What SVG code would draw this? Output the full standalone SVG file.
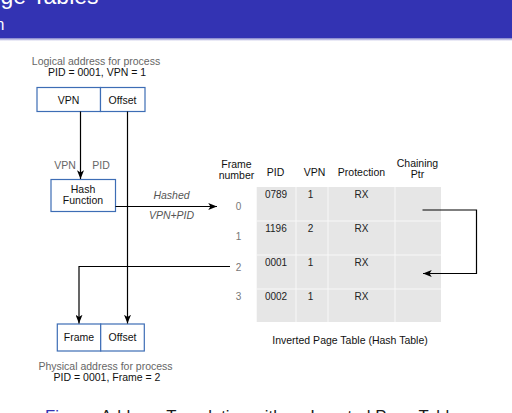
<svg xmlns="http://www.w3.org/2000/svg" width="512" height="413" viewBox="0 0 512 413">
  <style>
    text { font-family: "Liberation Sans", Arial, sans-serif; }
    .box { fill: #ffffff; stroke: #3d6db5; stroke-width: 1.2; }
    .lbl { font-size: 10.5px; fill: #111111; text-anchor: middle; }
    .note { font-size: 10.5px; fill: #666666; text-anchor: middle; }
    .hdr { font-size: 10.5px; fill: #111111; text-anchor: middle; }
    .cell { font-size: 10px; fill: #222222; text-anchor: middle; }
    .row { font-size: 10px; fill: #777777; text-anchor: middle; }
    .it { font-size: 10.5px; fill: #555555; font-style: italic; text-anchor: middle; }
    .conn { fill: none; stroke: #000000; stroke-width: 1.2; }
    .grid { stroke: #f8f8f8; stroke-width: 1; }
  </style>
  <defs>
    <marker id="arrow" viewBox="0 0 10 8" refX="10" refY="4" markerWidth="9" markerHeight="7" orient="auto" markerUnits="userSpaceOnUse">
      <path d="M0,0 L10,4 L0,8 L2.5,4 Z" fill="#000000"/>
    </marker>
    <linearGradient id="shade" x1="0" y1="0" x2="0" y2="1">
      <stop offset="0" stop-color="#7c7cc8"/>
      <stop offset="1" stop-color="#ffffff"/>
    </linearGradient>
  </defs>

  <!-- slide header -->
  <rect x="0" y="0" width="512" height="38" fill="#3333b3"/>
  <rect x="0" y="38" width="512" height="3" fill="url(#shade)"/>
  <text x="0.5" y="4.3" font-size="23" fill="#ffffff">ge Tables</text>
  <text x="-4.5" y="30" font-size="16" fill="#ffffff">n</text>

  <!-- logical address -->
  <g id="logical-address">
    <text class="note" x="96" y="65">Logical address for process</text>
    <text class="lbl" x="97" y="75.5">PID = 0001, VPN = 1</text>
    <rect class="box" x="37" y="87.5" width="63.5" height="24"/>
    <text class="lbl" x="68.5" y="103.5">VPN</text>
    <rect class="box" x="100.5" y="87.5" width="44.5" height="24"/>
    <text class="lbl" x="122.5" y="103.5">Offset</text>
  </g>

  <!-- hash function -->
  <g id="hash-function">
    <rect class="box" x="51" y="179.5" width="64.5" height="32"/>
    <text class="lbl" x="83" y="193">Hash</text>
    <text class="lbl" x="83" y="204">Function</text>
  </g>

  <!-- inverted page table -->
  <g id="page-table">
    <text class="hdr" x="236.5" y="168">Frame</text>
    <text class="hdr" x="236.5" y="179">number</text>
    <text class="hdr" x="275.5" y="176">PID</text>
    <text class="hdr" x="314.5" y="176">VPN</text>
    <text class="hdr" x="361.5" y="176">Protection</text>
    <text class="hdr" x="417.5" y="167">Chaining</text>
    <text class="hdr" x="417.5" y="178">Ptr</text>

    <rect x="256.7" y="187" width="184.3" height="135" fill="#e6e6e6"/>
    <path class="grid" d="M296,187 V322 M328,187 V322 M395,187 V322 M256.7,221 H441 M256.7,255 H441 M256.7,289 H441"/>

    <text class="row" x="238.5" y="210">0</text>
    <text class="row" x="238.5" y="240">1</text>
    <text class="row" x="238.5" y="270.5">2</text>
    <text class="row" x="238.5" y="300">3</text>

    <text class="cell" x="276" y="197.5">0789</text>
    <text class="cell" x="310.5" y="197.5">1</text>
    <text class="cell" x="361.5" y="197.5">RX</text>
    <text class="cell" x="276" y="231.5">1196</text>
    <text class="cell" x="310.5" y="231.5">2</text>
    <text class="cell" x="361.5" y="231.5">RX</text>
    <text class="cell" x="276" y="265.5">0001</text>
    <text class="cell" x="310.5" y="265.5">1</text>
    <text class="cell" x="361.5" y="265.5">RX</text>
    <text class="cell" x="276" y="299.5">0002</text>
    <text class="cell" x="310.5" y="299.5">1</text>
    <text class="cell" x="361.5" y="299.5">RX</text>

    <text class="lbl" x="350" y="344" font-size="11.5">Inverted Page Table (Hash Table)</text>
  </g>

  <!-- physical address -->
  <g id="physical-address">
    <rect class="box" x="57.3" y="324" width="43.4" height="27"/>
    <text class="lbl" x="79" y="341">Frame</text>
    <rect class="box" x="100.7" y="324" width="43.6" height="27"/>
    <text class="lbl" x="122.5" y="341">Offset</text>
    <text class="note" x="105.5" y="370">Physical address for process</text>
    <text class="lbl" x="107" y="381">PID = 0001, Frame = 2</text>
  </g>

  <!-- connectors -->
  <g id="connectors">
    <path class="conn" d="M80.5,111.5 V179" marker-end="url(#arrow)"/>
    <path class="conn" d="M127.5,111.5 V323.5" marker-end="url(#arrow)"/>
    <path class="conn" d="M115.5,206.5 H217" marker-end="url(#arrow)"/>
    <path class="conn" d="M230,266.5 H79 V323.5" marker-end="url(#arrow)"/>
    <path class="conn" d="M422.5,210 H476.5 V273.5 H423" marker-end="url(#arrow)"/>
    <text class="note" x="65" y="169">VPN</text>
    <text class="note" x="101" y="169">PID</text>
    <text class="it" x="171.5" y="199">Hashed</text>
    <text class="it" x="171.5" y="219">VPN+PID</text>
  </g>

  <!-- figure caption -->
  <text x="45" y="421.5" font-size="16.7" fill="#1a1a1a"><tspan fill="#3333b3">Figure:</tspan> Address Translation with an Inverted Page Table</text>
</svg>
